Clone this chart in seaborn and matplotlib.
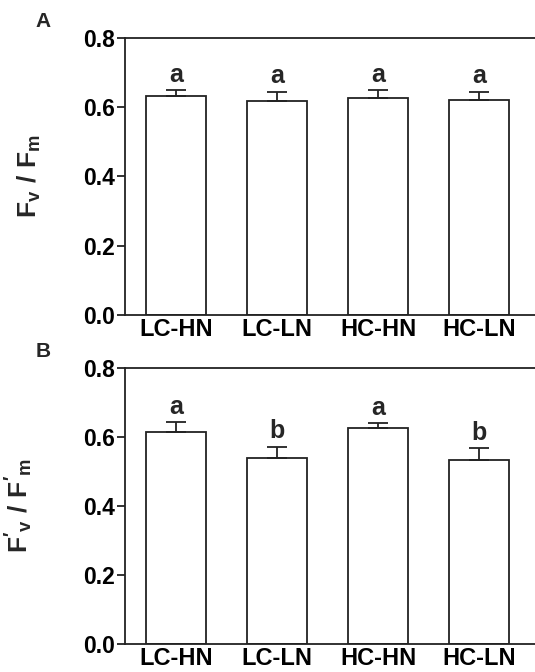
import numpy as np
import pandas as pd
import matplotlib
matplotlib.use('Agg')
import matplotlib.pyplot as plt
import seaborn as sns

# Data
groups = ['LC-HN', 'LC-LN', 'HC-HN', 'HC-LN']
fvfm_mean = [0.632, 0.617, 0.626, 0.621]
fvfm_se = [0.017, 0.028, 0.023, 0.023]
fvfm_letters = ['a', 'a', 'a', 'a']
fvfm_p_mean = [0.613, 0.539, 0.626, 0.534]
fvfm_p_se = [0.029, 0.032, 0.013, 0.033]
fvfm_p_letters = ['a', 'b', 'a', 'b']

sns.set_style('ticks')
plt.rcParams['font.family'] = ['Liberation Sans', 'DejaVu Sans']
plt.rcParams['font.weight'] = 'bold'
plt.rcParams['mathtext.fontset'] = 'custom'
plt.rcParams['mathtext.rm'] = 'Liberation Sans:bold'
plt.rcParams['mathtext.it'] = 'Liberation Sans:bold'
plt.rcParams['mathtext.bf'] = 'Liberation Sans:bold'

fig = plt.figure(figsize=(5.35, 6.72), dpi=100)
ax_a = fig.add_axes([0.2336, 0.5313, 0.7664, 0.4122])
ax_b = fig.add_axes([0.2336, 0.0412, 0.7664, 0.4116])

panels = [
    (ax_a, fvfm_mean, fvfm_se, fvfm_letters, r'$\mathrm{F_v\ /\ F_m}$', 'A', -0.2),
    (ax_b, fvfm_p_mean, fvfm_p_se, fvfm_p_letters, r"$\mathrm{F'_v\ /\ F'_m}$", 'B', -0.22),
]

for ax, means, ses, letters, ylab, tag, lx in panels:
    df = pd.DataFrame({'group': groups, 'value': means})
    sns.barplot(data=df, x='group', y='value', color='white', edgecolor='#222222',
                linewidth=1.3, width=0.6, saturation=1, ax=ax)
    x = np.arange(len(groups))
    ax.errorbar(x, means, yerr=[np.zeros(len(ses)), ses], fmt='none',
                ecolor='#222222', elinewidth=1.3, capsize=7, capthick=1.3)
    for xi, m, s, lt in zip(x, means, ses, letters):
        ax.text(xi, m + s + 0.025, lt, ha='center', va='baseline',
                fontsize=18, fontweight='bold')
    ax.set_xlim(-0.505, 3.554)
    ax.set_ylim(0, 0.8)
    ax.set_yticks([0.0, 0.2, 0.4, 0.6, 0.8])
    ax.set_yticklabels(['0.0', '0.2', '0.4', '0.6', '0.8'])
    ax.set_xlabel('')
    ax.set_ylabel(ylab, fontsize=19)
    ax.yaxis.set_label_coords(lx, 0.5)
    ax.tick_params(axis='y', length=6, width=1.3, labelsize=16.5, pad=1, colors='#222222')
    ax.tick_params(axis='x', length=0, labelsize=17, pad=2, colors='#222222')
    for lbl in ax.get_xticklabels() + ax.get_yticklabels():
        lbl.set_fontweight('bold')
        lbl.set_color('black')
    for side in ['left', 'bottom', 'top']:
        ax.spines[side].set_linewidth(1.3)
        ax.spines[side].set_color('#222222')
    ax.spines['right'].set_visible(False)
    ax.text(-0.2, 1.06, tag, transform=ax.transAxes, fontsize=15,
            fontweight='bold', ha='center', va='center')

fig.savefig('out.png', dpi=100)
